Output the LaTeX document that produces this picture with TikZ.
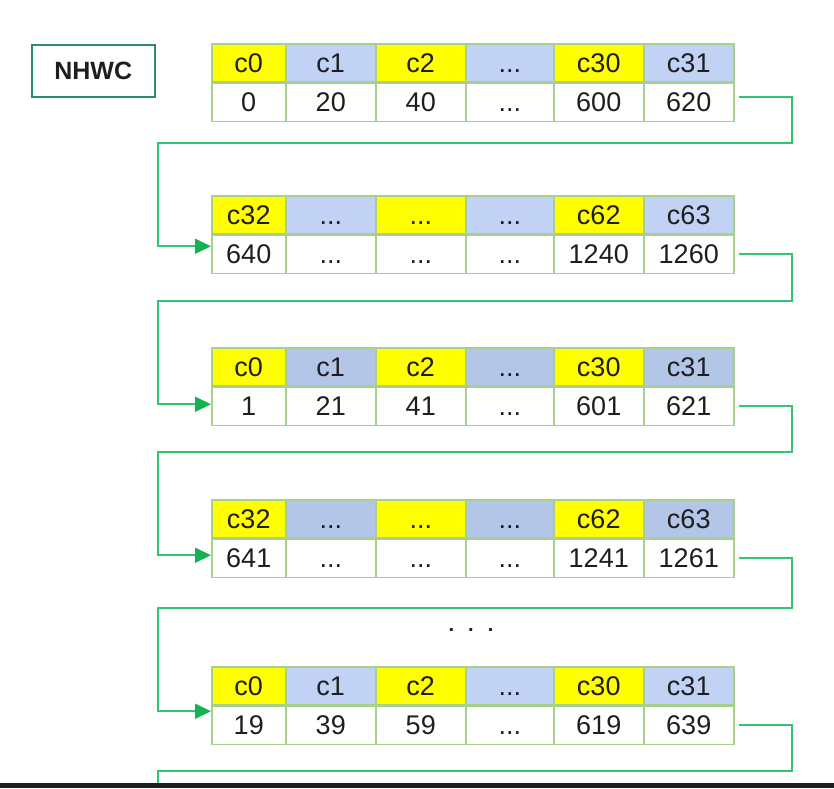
\documentclass[tikz,border=0pt]{standalone}
\usepackage{fontspec}
\setmainfont{Liberation Sans}
\usetikzlibrary{arrows.meta,positioning}
\definecolor{cellgreen}{RGB}{168,208,141}
\definecolor{linkgreen}{RGB}{50,196,112}
\definecolor{tipgreen}{RGB}{20,178,82}
\definecolor{boxgreen}{RGB}{46,139,106}
\definecolor{chanyellow}{RGB}{255,255,0}
\definecolor{chanblue}{RGB}{193,210,245}
\definecolor{chanbluedk}{RGB}{180,198,231}
\definecolor{inktext}{RGB}{30,30,30}
\definecolor{barblack}{RGB}{30,30,30}

\begin{document}
\begin{tikzpicture}[
      x=1pt, y=-1pt,
      cell/.style={
        draw=cellgreen, line width=1.5pt, anchor=north west, inner sep=0pt,
        minimum height=38pt, text height=19pt, text depth=0pt, text=inktext,
        font=\fontsize{27}{27}\selectfont
      },
      link/.style={
        draw=linkgreen, line width=1.8pt,
        -{Triangle[length=16pt,width=15pt,color=tipgreen]}
      },
      ]
  \useasboundingbox (0,0) rectangle (834,788);

  \node[draw=boxgreen, line width=1.5pt, minimum width=123pt, minimum height=52pt,
        anchor=north west, font=\fontsize{25}{25}\selectfont\bfseries, text=inktext]
        (layout) at (31,44) {NHWC};

  % first block of 32 channels, w=0
  \foreach \x/\w/\f/\h/\d [count=\i] in {211/74/chanyellow/c0/0, 285/90/chanblue/c1/20,
      375/90/chanyellow/c2/40, 465/88/chanblue/{...}/{...}, 553/90/chanyellow/c30/600,
      643/90/chanblue/c31/620}{
    \node[cell, fill=\f, minimum width=\w pt] (a\i) at (\x,43) {\h};
    \node[cell, minimum width=\w pt] (ad\i) at (a\i.south west) {\d};
  }

  % second block, w=0
  \foreach \x/\w/\f/\h/\d [count=\i] in {211/74/chanyellow/c32/640, 285/90/chanblue/{...}/{...},
      375/90/chanyellow/{...}/{...}, 465/88/chanblue/{...}/{...}, 553/90/chanyellow/c62/1240,
      643/90/chanblue/c63/1260}{
    \node[cell, fill=\f, minimum width=\w pt] (b\i) at (\x,195) {\h};
    \node[cell, minimum width=\w pt] (bd\i) at (b\i.south west) {\d};
  }

  % first block, w=1
  \foreach \x/\w/\f/\h/\d [count=\i] in {211/74/chanyellow/c0/1, 285/90/chanbluedk/c1/21,
      375/90/chanyellow/c2/41, 465/88/chanbluedk/{...}/{...}, 553/90/chanyellow/c30/601,
      643/90/chanbluedk/c31/621}{
    \node[cell, fill=\f, minimum width=\w pt] (c\i) at (\x,347) {\h};
    \node[cell, minimum width=\w pt] (cd\i) at (c\i.south west) {\d};
  }

  % second block, w=1
  \foreach \x/\w/\f/\h/\d [count=\i] in {211/74/chanyellow/c32/641, 285/90/chanbluedk/{...}/{...},
      375/90/chanyellow/{...}/{...}, 465/88/chanbluedk/{...}/{...}, 553/90/chanyellow/c62/1241,
      643/90/chanbluedk/c63/1261}{
    \node[cell, fill=\f, minimum width=\w pt] (d\i) at (\x,499) {\h};
    \node[cell, minimum width=\w pt] (dd\i) at (d\i.south west) {\d};
  }

  \node[font=\fontsize{20}{20}\selectfont\bfseries, text=inktext] (skip) at (471,630)
        {.\hspace{14pt}.\hspace{14pt}.};

  % first block, w=19
  \foreach \x/\w/\f/\h/\d [count=\i] in {211/74/chanyellow/c0/19, 285/90/chanblue/c1/39,
      375/90/chanyellow/c2/59, 465/88/chanblue/{...}/{...}, 553/90/chanyellow/c30/619,
      643/90/chanblue/c31/639}{
    \node[cell, fill=\f, minimum width=\w pt] (e\i) at (\x,666) {\h};
    \node[cell, minimum width=\w pt] (ed\i) at (e\i.south west) {\d};
  }

  % Connect the rows
  \draw[link] ([xshift=4pt,yshift=5pt]ad6.east) -| (792,143) -| ([xshift=-53pt,yshift=8pt]bd1.west)
        -- ([yshift=8pt]bd1.west);
  \draw[link] ([xshift=4pt]bd6.east) -| (792,301) -| ([xshift=-53pt,yshift=2pt]cd1.west)
        -- ([yshift=2pt]cd1.west);
  \draw[link] ([xshift=4pt]cd6.east) -| (792,452) -| ([xshift=-53pt,yshift=3pt]dd1.west)
        -- ([yshift=3pt]dd1.west);
  \draw[link] ([xshift=4pt]dd6.east) -| (792,608) -| ([xshift=-53pt,yshift=14pt]ed1.west)
        -- ([yshift=14pt]ed1.west);
  \coordinate (next) at (158,788);
  \draw[draw=linkgreen, line width=1.8pt] ([xshift=4pt]ed6.east) -| (792,771) -| (next);

  \fill[barblack] (0,783) rectangle (834,788);

\end{tikzpicture}
\end{document}
